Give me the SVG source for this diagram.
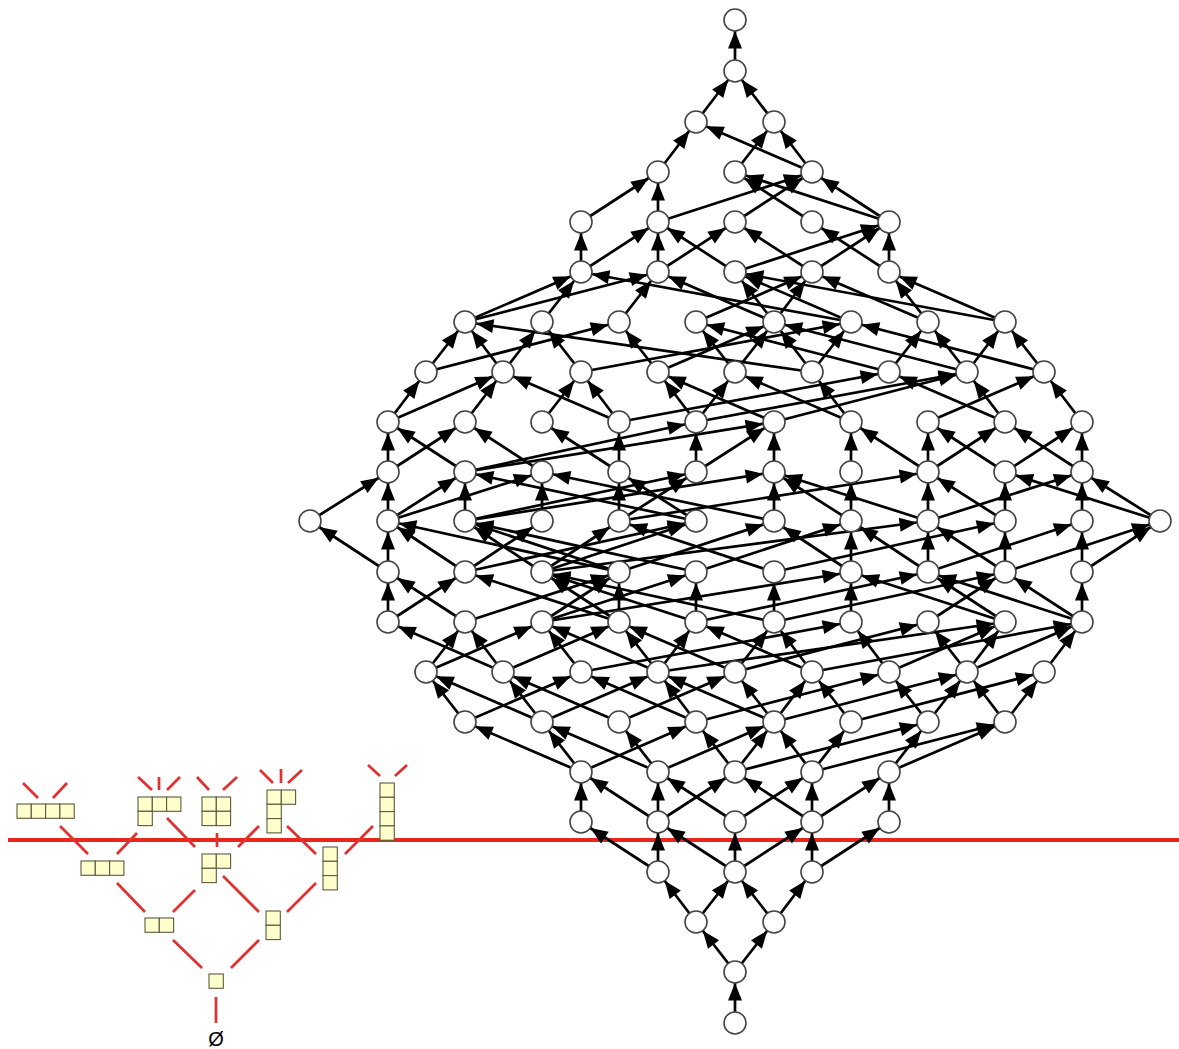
<svg xmlns="http://www.w3.org/2000/svg" width="1179" height="1049" viewBox="0 0 1179 1049">
<style>
.e line{stroke:#000;stroke-width:2.7;marker-end:url(#ah)}
.n circle{fill:#fff;stroke:#444;stroke-width:1.6}
.yd rect{fill:#ffffcc;stroke:#5a5a40;stroke-width:1.1}
.rl line{stroke:#e03030;stroke-width:2.7}
</style>
<defs>
<marker id="ah" markerUnits="userSpaceOnUse" markerWidth="18" markerHeight="15" refX="28.5" refY="7" orient="auto" overflow="visible"><path d="M0,0 L17.5,7 L0,14 z" fill="#000"/></marker>
</defs>
<rect width="1179" height="1049" fill="#fff"/>
<line x1="8" y1="840" x2="1179" y2="840" stroke="#e8261c" stroke-width="4"/>
<g id="connectors" class="e">
<line x1="735" y1="1023" x2="735" y2="972"/>
<line x1="735" y1="972" x2="696" y2="922"/><line x1="735" y1="972" x2="774" y2="922"/>
<line x1="696" y1="922" x2="658" y2="872"/><line x1="696" y1="922" x2="735" y2="872"/><line x1="774" y1="922" x2="735" y2="872"/><line x1="774" y1="922" x2="812" y2="872"/>
<line x1="658" y1="872" x2="581" y2="822"/><line x1="658" y1="872" x2="658" y2="822"/><line x1="735" y1="872" x2="658" y2="822"/><line x1="735" y1="872" x2="735" y2="822"/><line x1="735" y1="872" x2="812" y2="822"/><line x1="812" y1="872" x2="812" y2="822"/><line x1="812" y1="872" x2="889" y2="822"/>
<line x1="581" y1="822" x2="581" y2="772"/><line x1="658" y1="822" x2="581" y2="772"/><line x1="658" y1="822" x2="658" y2="772"/><line x1="658" y1="822" x2="735" y2="772"/><line x1="735" y1="822" x2="658" y2="772"/><line x1="735" y1="822" x2="812" y2="772"/><line x1="812" y1="822" x2="735" y2="772"/><line x1="812" y1="822" x2="812" y2="772"/><line x1="812" y1="822" x2="889" y2="772"/><line x1="889" y1="822" x2="889" y2="772"/>
<line x1="581" y1="772" x2="465" y2="722"/><line x1="581" y1="772" x2="542" y2="722"/><line x1="581" y1="772" x2="696" y2="722"/>
<line x1="658" y1="772" x2="542" y2="722"/><line x1="658" y1="772" x2="619" y2="722"/><line x1="658" y1="772" x2="774" y2="722"/>
<line x1="735" y1="772" x2="696" y2="722"/><line x1="735" y1="772" x2="774" y2="722"/><line x1="735" y1="772" x2="928" y2="722"/>
<line x1="812" y1="772" x2="774" y2="722"/><line x1="812" y1="772" x2="851" y2="722"/><line x1="812" y1="772" x2="1005" y2="722"/>
<line x1="889" y1="772" x2="928" y2="722"/><line x1="889" y1="772" x2="1005" y2="722"/>
<line x1="465" y1="722" x2="426" y2="672"/><line x1="465" y1="722" x2="581" y2="672"/>
<line x1="542" y1="722" x2="426" y2="672"/><line x1="542" y1="722" x2="503" y2="672"/><line x1="542" y1="722" x2="658" y2="672"/>
<line x1="619" y1="722" x2="503" y2="672"/><line x1="619" y1="722" x2="735" y2="672"/>
<line x1="696" y1="722" x2="581" y2="672"/><line x1="696" y1="722" x2="658" y2="672"/><line x1="696" y1="722" x2="889" y2="672"/>
<line x1="774" y1="722" x2="658" y2="672"/><line x1="774" y1="722" x2="735" y2="672"/><line x1="774" y1="722" x2="812" y2="672"/><line x1="774" y1="722" x2="967" y2="672"/>
<line x1="851" y1="722" x2="812" y2="672"/><line x1="851" y1="722" x2="1044" y2="672"/>
<line x1="928" y1="722" x2="889" y2="672"/><line x1="928" y1="722" x2="967" y2="672"/>
<line x1="1005" y1="722" x2="967" y2="672"/><line x1="1005" y1="722" x2="1044" y2="672"/>
<line x1="426" y1="672" x2="465" y2="622"/><line x1="426" y1="672" x2="542" y2="622"/>
<line x1="503" y1="672" x2="465" y2="622"/><line x1="503" y1="672" x2="388" y2="622"/><line x1="503" y1="672" x2="619" y2="622"/>
<line x1="581" y1="672" x2="542" y2="622"/><line x1="581" y1="672" x2="851" y2="622"/>
<line x1="658" y1="672" x2="542" y2="622"/><line x1="658" y1="672" x2="619" y2="622"/><line x1="658" y1="672" x2="696" y2="622"/><line x1="658" y1="672" x2="1005" y2="622"/>
<line x1="735" y1="672" x2="619" y2="622"/><line x1="735" y1="672" x2="774" y2="622"/><line x1="735" y1="672" x2="928" y2="622"/>
<line x1="812" y1="672" x2="696" y2="622"/><line x1="812" y1="672" x2="774" y2="622"/><line x1="812" y1="672" x2="1082" y2="622"/>
<line x1="889" y1="672" x2="851" y2="622"/><line x1="889" y1="672" x2="1005" y2="622"/>
<line x1="967" y1="672" x2="1005" y2="622"/><line x1="967" y1="672" x2="928" y2="622"/><line x1="967" y1="672" x2="1082" y2="622"/>
<line x1="1044" y1="672" x2="1082" y2="622"/>
<line x1="388" y1="622" x2="388" y2="572"/><line x1="388" y1="622" x2="465" y2="572"/>
<line x1="465" y1="622" x2="388" y2="572"/><line x1="465" y1="622" x2="619" y2="572"/>
<line x1="542" y1="622" x2="619" y2="572"/><line x1="542" y1="622" x2="696" y2="572"/><line x1="542" y1="622" x2="851" y2="572"/>
<line x1="619" y1="622" x2="619" y2="572"/><line x1="619" y1="622" x2="465" y2="572"/><line x1="619" y1="622" x2="542" y2="572"/>
<line x1="696" y1="622" x2="696" y2="572"/><line x1="696" y1="622" x2="542" y2="572"/><line x1="696" y1="622" x2="928" y2="572"/>
<line x1="774" y1="622" x2="542" y2="572"/><line x1="774" y1="622" x2="774" y2="572"/><line x1="774" y1="622" x2="1005" y2="572"/>
<line x1="851" y1="622" x2="851" y2="572"/>
<line x1="928" y1="622" x2="1005" y2="572"/>
<line x1="1005" y1="622" x2="851" y2="572"/><line x1="1005" y1="622" x2="928" y2="572"/>
<line x1="1082" y1="622" x2="928" y2="572"/><line x1="1082" y1="622" x2="1005" y2="572"/><line x1="1082" y1="622" x2="1082" y2="572"/>
<line x1="388" y1="572" x2="310" y2="521"/><line x1="388" y1="572" x2="388" y2="521"/>
<line x1="465" y1="572" x2="388" y2="521"/><line x1="465" y1="572" x2="696" y2="521"/><line x1="465" y1="572" x2="542" y2="521"/>
<line x1="542" y1="572" x2="465" y2="521"/><line x1="542" y1="572" x2="696" y2="521"/><line x1="542" y1="572" x2="619" y2="521"/><line x1="542" y1="572" x2="928" y2="521"/>
<line x1="619" y1="572" x2="388" y2="521"/><line x1="619" y1="572" x2="465" y2="521"/><line x1="619" y1="572" x2="774" y2="521"/>
<line x1="696" y1="572" x2="465" y2="521"/><line x1="696" y1="572" x2="851" y2="521"/>
<line x1="774" y1="572" x2="619" y2="521"/><line x1="774" y1="572" x2="1005" y2="521"/>
<line x1="851" y1="572" x2="774" y2="521"/><line x1="851" y1="572" x2="851" y2="521"/>
<line x1="928" y1="572" x2="851" y2="521"/><line x1="928" y1="572" x2="928" y2="521"/><line x1="928" y1="572" x2="1082" y2="521"/>
<line x1="1005" y1="572" x2="928" y2="521"/><line x1="1005" y1="572" x2="1005" y2="521"/><line x1="1005" y1="572" x2="1160" y2="521"/>
<line x1="1082" y1="572" x2="1082" y2="521"/><line x1="1082" y1="572" x2="1160" y2="521"/>
<line x1="310" y1="521" x2="388" y2="472"/>
<line x1="388" y1="521" x2="388" y2="472"/><line x1="388" y1="521" x2="542" y2="472"/><line x1="388" y1="521" x2="465" y2="472"/>
<line x1="465" y1="521" x2="774" y2="472"/><line x1="465" y1="521" x2="465" y2="472"/><line x1="465" y1="521" x2="696" y2="472"/>
<line x1="542" y1="521" x2="542" y2="472"/>
<line x1="619" y1="521" x2="696" y2="472"/><line x1="619" y1="521" x2="619" y2="472"/><line x1="619" y1="521" x2="928" y2="472"/>
<line x1="696" y1="521" x2="465" y2="472"/><line x1="696" y1="521" x2="619" y2="472"/>
<line x1="774" y1="521" x2="542" y2="472"/><line x1="774" y1="521" x2="774" y2="472"/>
<line x1="851" y1="521" x2="774" y2="472"/><line x1="851" y1="521" x2="851" y2="472"/>
<line x1="928" y1="521" x2="774" y2="472"/><line x1="928" y1="521" x2="928" y2="472"/><line x1="928" y1="521" x2="1082" y2="472"/>
<line x1="1005" y1="521" x2="928" y2="472"/><line x1="1005" y1="521" x2="1005" y2="472"/>
<line x1="1082" y1="521" x2="1082" y2="472"/>
<line x1="1160" y1="521" x2="1082" y2="472"/><line x1="1160" y1="521" x2="1005" y2="472"/>
<line x1="388" y1="472" x2="388" y2="422"/><line x1="388" y1="472" x2="465" y2="422"/>
<line x1="465" y1="472" x2="388" y2="422"/><line x1="465" y1="472" x2="696" y2="422"/><line x1="465" y1="472" x2="774" y2="422"/>
<line x1="542" y1="472" x2="465" y2="422"/>
<line x1="619" y1="472" x2="542" y2="422"/><line x1="619" y1="472" x2="619" y2="422"/>
<line x1="696" y1="472" x2="696" y2="422"/><line x1="696" y1="472" x2="774" y2="422"/>
<line x1="774" y1="472" x2="774" y2="422"/>
<line x1="851" y1="472" x2="851" y2="422"/>
<line x1="928" y1="472" x2="851" y2="422"/><line x1="928" y1="472" x2="928" y2="422"/><line x1="928" y1="472" x2="1005" y2="422"/>
<line x1="1005" y1="472" x2="928" y2="422"/><line x1="1005" y1="472" x2="1082" y2="422"/>
<line x1="1082" y1="472" x2="1005" y2="422"/><line x1="1082" y1="472" x2="1082" y2="422"/>
<line x1="388" y1="422" x2="426" y2="372"/><line x1="388" y1="422" x2="503" y2="372"/>
<line x1="465" y1="422" x2="503" y2="372"/>
<line x1="542" y1="422" x2="581" y2="372"/>
<line x1="619" y1="422" x2="503" y2="372"/><line x1="619" y1="422" x2="581" y2="372"/><line x1="619" y1="422" x2="889" y2="372"/>
<line x1="696" y1="422" x2="658" y2="372"/><line x1="696" y1="422" x2="735" y2="372"/><line x1="696" y1="422" x2="967" y2="372"/>
<line x1="774" y1="422" x2="658" y2="372"/><line x1="774" y1="422" x2="967" y2="372"/>
<line x1="851" y1="422" x2="735" y2="372"/><line x1="851" y1="422" x2="812" y2="372"/>
<line x1="928" y1="422" x2="1044" y2="372"/>
<line x1="1005" y1="422" x2="967" y2="372"/><line x1="1005" y1="422" x2="889" y2="372"/>
<line x1="1082" y1="422" x2="1044" y2="372"/>
<line x1="426" y1="372" x2="465" y2="322"/><line x1="426" y1="372" x2="619" y2="322"/>
<line x1="503" y1="372" x2="465" y2="322"/><line x1="503" y1="372" x2="542" y2="322"/>
<line x1="581" y1="372" x2="542" y2="322"/><line x1="581" y1="372" x2="851" y2="322"/>
<line x1="658" y1="372" x2="619" y2="322"/><line x1="658" y1="372" x2="774" y2="322"/>
<line x1="735" y1="372" x2="774" y2="322"/><line x1="735" y1="372" x2="696" y2="322"/>
<line x1="812" y1="372" x2="465" y2="322"/><line x1="812" y1="372" x2="851" y2="322"/><line x1="812" y1="372" x2="774" y2="322"/>
<line x1="889" y1="372" x2="696" y2="322"/><line x1="889" y1="372" x2="928" y2="322"/>
<line x1="967" y1="372" x2="774" y2="322"/><line x1="967" y1="372" x2="1005" y2="322"/><line x1="967" y1="372" x2="928" y2="322"/>
<line x1="1044" y1="372" x2="851" y2="322"/><line x1="1044" y1="372" x2="1005" y2="322"/>
<line x1="465" y1="322" x2="581" y2="272"/><line x1="465" y1="322" x2="658" y2="272"/>
<line x1="542" y1="322" x2="581" y2="272"/>
<line x1="619" y1="322" x2="658" y2="272"/>
<line x1="696" y1="322" x2="812" y2="272"/>
<line x1="774" y1="322" x2="658" y2="272"/><line x1="774" y1="322" x2="735" y2="272"/><line x1="774" y1="322" x2="812" y2="272"/>
<line x1="851" y1="322" x2="581" y2="272"/><line x1="851" y1="322" x2="735" y2="272"/>
<line x1="928" y1="322" x2="812" y2="272"/><line x1="928" y1="322" x2="889" y2="272"/>
<line x1="1005" y1="322" x2="735" y2="272"/><line x1="1005" y1="322" x2="889" y2="272"/>
<line x1="581" y1="272" x2="581" y2="222"/><line x1="581" y1="272" x2="658" y2="222"/>
<line x1="658" y1="272" x2="658" y2="222"/><line x1="658" y1="272" x2="735" y2="222"/>
<line x1="735" y1="272" x2="658" y2="222"/><line x1="735" y1="272" x2="889" y2="222"/>
<line x1="812" y1="272" x2="735" y2="222"/><line x1="812" y1="272" x2="889" y2="222"/>
<line x1="889" y1="272" x2="889" y2="222"/><line x1="889" y1="272" x2="812" y2="222"/>
<line x1="581" y1="222" x2="658" y2="172"/>
<line x1="658" y1="222" x2="658" y2="172"/><line x1="658" y1="222" x2="812" y2="172"/>
<line x1="735" y1="222" x2="812" y2="172"/>
<line x1="812" y1="222" x2="735" y2="172"/>
<line x1="889" y1="222" x2="812" y2="172"/><line x1="889" y1="222" x2="735" y2="172"/>
<line x1="658" y1="172" x2="696" y2="122"/><line x1="735" y1="172" x2="774" y2="122"/><line x1="812" y1="172" x2="696" y2="122"/><line x1="812" y1="172" x2="774" y2="122"/>
<line x1="696" y1="122" x2="735" y2="71"/><line x1="774" y1="122" x2="735" y2="71"/>
<line x1="735" y1="71" x2="735" y2="20"/>
</g>
<g id="nodes" class="n">
<g id="n0_0"><circle cx="735" cy="1023" r="11"/></g>
<g id="n1_0"><circle cx="735" cy="972" r="11"/></g>
<g id="n2_a"><circle cx="696" cy="922" r="11"/></g><g id="n2_b"><circle cx="774" cy="922" r="11"/></g>
<g id="n3_a"><circle cx="658" cy="872" r="11"/></g><g id="n3_b"><circle cx="735" cy="872" r="11"/></g><g id="n3_c"><circle cx="812" cy="872" r="11"/></g>
<g id="n4_a"><circle cx="581" cy="822" r="11"/></g><g id="n4_b"><circle cx="658" cy="822" r="11"/></g><g id="n4_c"><circle cx="735" cy="822" r="11"/></g><g id="n4_d"><circle cx="812" cy="822" r="11"/></g><g id="n4_e"><circle cx="889" cy="822" r="11"/></g>
<g id="n5_a"><circle cx="581" cy="772" r="11"/></g><g id="n5_b"><circle cx="658" cy="772" r="11"/></g><g id="n5_c"><circle cx="735" cy="772" r="11"/></g><g id="n5_d"><circle cx="812" cy="772" r="11"/></g><g id="n5_e"><circle cx="889" cy="772" r="11"/></g>
<g id="n6_a"><circle cx="465" cy="722" r="11"/></g><g id="n6_b"><circle cx="542" cy="722" r="11"/></g><g id="n6_c"><circle cx="619" cy="722" r="11"/></g><g id="n6_d"><circle cx="696" cy="722" r="11"/></g><g id="n6_e"><circle cx="774" cy="722" r="11"/></g><g id="n6_f"><circle cx="851" cy="722" r="11"/></g><g id="n6_g"><circle cx="928" cy="722" r="11"/></g><g id="n6_h"><circle cx="1005" cy="722" r="11"/></g>
<g id="n7_a"><circle cx="426" cy="672" r="11"/></g><g id="n7_b"><circle cx="503" cy="672" r="11"/></g><g id="n7_c"><circle cx="581" cy="672" r="11"/></g><g id="n7_d"><circle cx="658" cy="672" r="11"/></g><g id="n7_e"><circle cx="735" cy="672" r="11"/></g><g id="n7_f"><circle cx="812" cy="672" r="11"/></g><g id="n7_g"><circle cx="889" cy="672" r="11"/></g><g id="n7_h"><circle cx="967" cy="672" r="11"/></g><g id="n7_i"><circle cx="1044" cy="672" r="11"/></g>
<g id="n8_a"><circle cx="388" cy="622" r="11"/></g><g id="n8_b"><circle cx="465" cy="622" r="11"/></g><g id="n8_c"><circle cx="542" cy="622" r="11"/></g><g id="n8_d"><circle cx="619" cy="622" r="11"/></g><g id="n8_e"><circle cx="696" cy="622" r="11"/></g><g id="n8_f"><circle cx="774" cy="622" r="11"/></g><g id="n8_g"><circle cx="851" cy="622" r="11"/></g><g id="n8_h"><circle cx="928" cy="622" r="11"/></g><g id="n8_i"><circle cx="1005" cy="622" r="11"/></g><g id="n8_j"><circle cx="1082" cy="622" r="11"/></g>
<g id="n9_a"><circle cx="388" cy="572" r="11"/></g><g id="n9_b"><circle cx="465" cy="572" r="11"/></g><g id="n9_c"><circle cx="542" cy="572" r="11"/></g><g id="n9_d"><circle cx="619" cy="572" r="11"/></g><g id="n9_e"><circle cx="696" cy="572" r="11"/></g><g id="n9_f"><circle cx="774" cy="572" r="11"/></g><g id="n9_g"><circle cx="851" cy="572" r="11"/></g><g id="n9_h"><circle cx="928" cy="572" r="11"/></g><g id="n9_i"><circle cx="1005" cy="572" r="11"/></g><g id="n9_j"><circle cx="1082" cy="572" r="11"/></g>
<g id="n10_a"><circle cx="310" cy="521" r="11"/></g><g id="n10_b"><circle cx="388" cy="521" r="11"/></g><g id="n10_c"><circle cx="465" cy="521" r="11"/></g><g id="n10_d"><circle cx="542" cy="521" r="11"/></g><g id="n10_e"><circle cx="619" cy="521" r="11"/></g><g id="n10_f"><circle cx="696" cy="521" r="11"/></g><g id="n10_g"><circle cx="774" cy="521" r="11"/></g><g id="n10_h"><circle cx="851" cy="521" r="11"/></g><g id="n10_i"><circle cx="928" cy="521" r="11"/></g><g id="n10_j"><circle cx="1005" cy="521" r="11"/></g><g id="n10_k"><circle cx="1082" cy="521" r="11"/></g><g id="n10_l"><circle cx="1160" cy="521" r="11"/></g>
<g id="n11_a"><circle cx="388" cy="472" r="11"/></g><g id="n11_b"><circle cx="465" cy="472" r="11"/></g><g id="n11_c"><circle cx="542" cy="472" r="11"/></g><g id="n11_d"><circle cx="619" cy="472" r="11"/></g><g id="n11_e"><circle cx="696" cy="472" r="11"/></g><g id="n11_f"><circle cx="774" cy="472" r="11"/></g><g id="n11_g"><circle cx="851" cy="472" r="11"/></g><g id="n11_h"><circle cx="928" cy="472" r="11"/></g><g id="n11_i"><circle cx="1005" cy="472" r="11"/></g><g id="n11_j"><circle cx="1082" cy="472" r="11"/></g>
<g id="n12_a"><circle cx="388" cy="422" r="11"/></g><g id="n12_b"><circle cx="465" cy="422" r="11"/></g><g id="n12_c"><circle cx="542" cy="422" r="11"/></g><g id="n12_d"><circle cx="619" cy="422" r="11"/></g><g id="n12_e"><circle cx="696" cy="422" r="11"/></g><g id="n12_f"><circle cx="774" cy="422" r="11"/></g><g id="n12_g"><circle cx="851" cy="422" r="11"/></g><g id="n12_h"><circle cx="928" cy="422" r="11"/></g><g id="n12_i"><circle cx="1005" cy="422" r="11"/></g><g id="n12_j"><circle cx="1082" cy="422" r="11"/></g>
<g id="n13_a"><circle cx="426" cy="372" r="11"/></g><g id="n13_b"><circle cx="503" cy="372" r="11"/></g><g id="n13_c"><circle cx="581" cy="372" r="11"/></g><g id="n13_d"><circle cx="658" cy="372" r="11"/></g><g id="n13_e"><circle cx="735" cy="372" r="11"/></g><g id="n13_f"><circle cx="812" cy="372" r="11"/></g><g id="n13_g"><circle cx="889" cy="372" r="11"/></g><g id="n13_h"><circle cx="967" cy="372" r="11"/></g><g id="n13_i"><circle cx="1044" cy="372" r="11"/></g>
<g id="n14_a"><circle cx="465" cy="322" r="11"/></g><g id="n14_b"><circle cx="542" cy="322" r="11"/></g><g id="n14_c"><circle cx="619" cy="322" r="11"/></g><g id="n14_d"><circle cx="696" cy="322" r="11"/></g><g id="n14_e"><circle cx="774" cy="322" r="11"/></g><g id="n14_f"><circle cx="851" cy="322" r="11"/></g><g id="n14_g"><circle cx="928" cy="322" r="11"/></g><g id="n14_h"><circle cx="1005" cy="322" r="11"/></g>
<g id="n15_a"><circle cx="581" cy="272" r="11"/></g><g id="n15_b"><circle cx="658" cy="272" r="11"/></g><g id="n15_c"><circle cx="735" cy="272" r="11"/></g><g id="n15_d"><circle cx="812" cy="272" r="11"/></g><g id="n15_e"><circle cx="889" cy="272" r="11"/></g>
<g id="n16_a"><circle cx="581" cy="222" r="11"/></g><g id="n16_b"><circle cx="658" cy="222" r="11"/></g><g id="n16_c"><circle cx="735" cy="222" r="11"/></g><g id="n16_d"><circle cx="812" cy="222" r="11"/></g><g id="n16_e"><circle cx="889" cy="222" r="11"/></g>
<g id="n17_a"><circle cx="658" cy="172" r="11"/></g><g id="n17_b"><circle cx="735" cy="172" r="11"/></g><g id="n17_c"><circle cx="812" cy="172" r="11"/></g>
<g id="n18_a"><circle cx="696" cy="122" r="11"/></g><g id="n18_b"><circle cx="774" cy="122" r="11"/></g>
<g id="n19_0"><circle cx="735" cy="71" r="11"/></g>
<g id="n20_0"><circle cx="735" cy="20" r="11"/></g>
</g>
<g id="young-links" class="rl">
<line x1="216" y1="997" x2="216" y2="1023"/>
<line x1="173" y1="940" x2="202" y2="968"/><line x1="231" y1="968" x2="259" y2="940"/>
<line x1="117" y1="883" x2="145" y2="912"/><line x1="173" y1="912" x2="195" y2="890"/><line x1="223" y1="876" x2="259" y2="912"/><line x1="287" y1="912" x2="316" y2="883"/>
<line x1="60" y1="826" x2="88" y2="854"/><line x1="117" y1="854" x2="137" y2="833"/><line x1="167" y1="818" x2="195" y2="847"/><line x1="217" y1="833" x2="217" y2="847"/><line x1="238" y1="847" x2="259" y2="826"/><line x1="287" y1="826" x2="316" y2="854"/><line x1="345" y1="854" x2="373" y2="826"/>
<line x1="23" y1="783" x2="38" y2="798"/><line x1="53" y1="798" x2="67" y2="783"/>
<line x1="138" y1="777" x2="152" y2="790"/><line x1="159" y1="777" x2="159" y2="790"/><line x1="167" y1="790" x2="180" y2="777"/>
<line x1="197" y1="777" x2="209" y2="790"/><line x1="223" y1="790" x2="237" y2="777"/>
<line x1="260" y1="770" x2="273" y2="783"/><line x1="281" y1="769" x2="281" y2="783"/><line x1="288" y1="783" x2="302" y2="770"/>
<line x1="368" y1="765" x2="380" y2="776"/><line x1="395" y1="776" x2="407" y2="765"/>
</g>
<g id="yd-empty"><text x="216" y="1046" font-family="Liberation Sans, Arial, sans-serif" font-size="20" text-anchor="middle" fill="#000">Ø</text></g>
<g id="yd-1" class="yd"><rect x="209" y="974" width="14.3" height="14.3"/></g>
<g id="yd-2" class="yd"><rect x="145" y="918" width="14.3" height="14.3"/><rect x="159.3" y="918" width="14.3" height="14.3"/></g>
<g id="yd-11" class="yd"><rect x="266" y="911" width="14.3" height="14.3"/><rect x="266" y="925.3" width="14.3" height="14.3"/></g>
<g id="yd-3" class="yd"><rect x="81" y="861" width="14.3" height="14.3"/><rect x="95.3" y="861" width="14.3" height="14.3"/><rect x="109.6" y="861" width="14.3" height="14.3"/></g>
<g id="yd-21" class="yd"><rect x="202" y="854" width="14.3" height="14.3"/><rect x="216.3" y="854" width="14.3" height="14.3"/><rect x="202" y="868.3" width="14.3" height="14.3"/></g>
<g id="yd-111" class="yd"><rect x="323" y="847" width="14.3" height="14.3"/><rect x="323" y="861.3" width="14.3" height="14.3"/><rect x="323" y="875.6" width="14.3" height="14.3"/></g>
<g id="yd-4" class="yd"><rect x="17" y="804" width="14.3" height="14.3"/><rect x="31.3" y="804" width="14.3" height="14.3"/><rect x="45.6" y="804" width="14.3" height="14.3"/><rect x="59.9" y="804" width="14.3" height="14.3"/></g>
<g id="yd-31" class="yd"><rect x="138" y="797" width="14.3" height="14.3"/><rect x="152.3" y="797" width="14.3" height="14.3"/><rect x="166.6" y="797" width="14.3" height="14.3"/><rect x="138" y="811.3" width="14.3" height="14.3"/></g>
<g id="yd-22" class="yd"><rect x="202" y="797" width="14.3" height="14.3"/><rect x="216.3" y="797" width="14.3" height="14.3"/><rect x="202" y="811.3" width="14.3" height="14.3"/><rect x="216.3" y="811.3" width="14.3" height="14.3"/></g>
<g id="yd-211" class="yd"><rect x="267" y="790" width="14.3" height="14.3"/><rect x="281.3" y="790" width="14.3" height="14.3"/><rect x="267" y="804.3" width="14.3" height="14.3"/><rect x="267" y="818.6" width="14.3" height="14.3"/></g>
<g id="yd-1111" class="yd"><rect x="380" y="783" width="14.3" height="14.3"/><rect x="380" y="797.3" width="14.3" height="14.3"/><rect x="380" y="811.6" width="14.3" height="14.3"/><rect x="380" y="825.9" width="14.3" height="14.3"/></g>
</svg>
